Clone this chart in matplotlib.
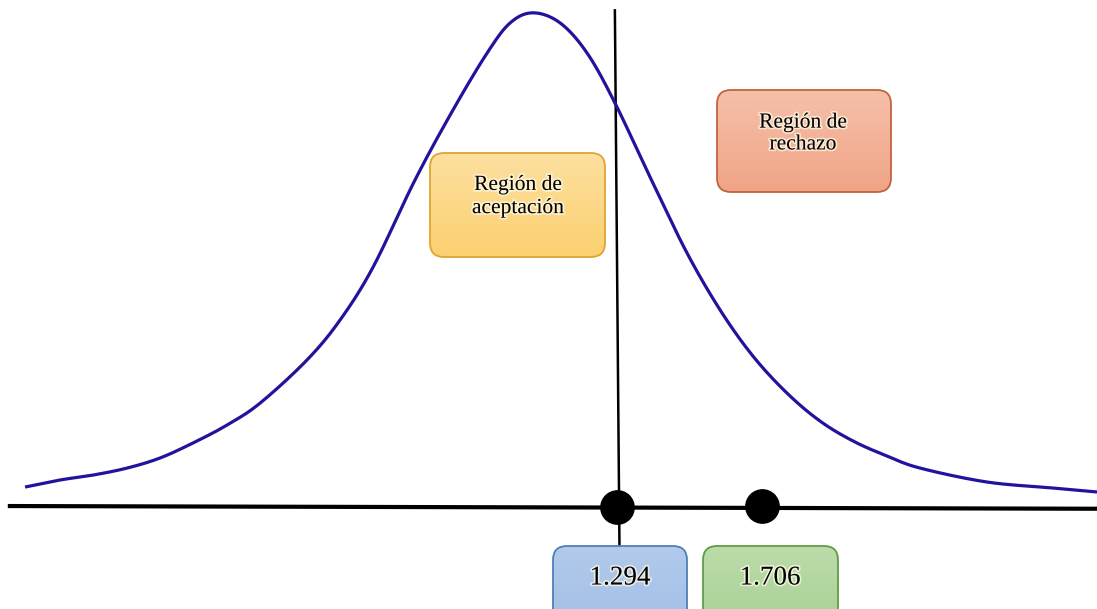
import numpy as np
import matplotlib
matplotlib.use("Agg")
import matplotlib.pyplot as plt
from matplotlib.patches import FancyBboxPatch
import matplotlib.patheffects as pe

# ---- data ----
curve_t = [-0.388, -0.289, -0.195, -0.098, -0.005, 0.089, 0.186, 0.280, 0.413, 0.507,
           0.601, 0.720, 0.828, 0.925, 0.990, 1.055, 1.132, 1.209, 1.288, 1.396,
           1.493, 1.587, 1.680, 1.777, 1.871, 1.965, 2.061, 2.155, 2.345, 2.533, 2.658]
curve_d = [0.0154, 0.0211, 0.0251, 0.0308, 0.0389, 0.0511, 0.0657, 0.0835, 0.1184, 0.1508,
           0.1938, 0.2644, 0.3212, 0.3674, 0.3917, 0.4000, 0.3919, 0.3674, 0.3270, 0.2620,
           0.2052, 0.1590, 0.1217, 0.0916, 0.0689, 0.0527, 0.0406, 0.0308, 0.0195, 0.0146, 0.0114]
critical_values = [1.294, 1.706]
critical_labels = ["1.294", "1.706"]
region_labels = ["Región de\naceptación", "Región de\nrechazo"]

W, H = 1097, 609
fig = plt.figure(figsize=(W / 100, H / 100), dpi=100)
ax = fig.add_axes([0, 0, 1, 1])
ax.set_xlim(-0.4591, 2.6579)
ax.set_ylim(-0.0835, 0.4104)
ax.axis("off")


def catmull(xs, ys, n=16):
    P = np.column_stack([np.asarray(xs), np.asarray(ys)])
    P = np.vstack([P[0], P, P[-1]])
    out = []
    for i in range(1, len(P) - 2):
        p0, p1, p2, p3 = P[i - 1], P[i], P[i + 1], P[i + 2]
        for s in np.linspace(0, 1, n, endpoint=False):
            s2, s3 = s * s, s * s * s
            out.append(0.5 * ((2 * p1) + (-p0 + p2) * s + (2 * p0 - 5 * p1 + 4 * p2 - p3) * s2
                              + (-p0 + 3 * p1 - 3 * p2 + p3) * s3))
    out.append(P[-2])
    out = np.array(out)
    return out[:, 0], out[:, 1]


sx, sy = catmull(curve_t, curve_d)
ax.plot(sx, sy, color="#22139c", lw=2.3, solid_capstyle="butt", zorder=3)

# horizontal axis
ax.plot([-0.431, 2.6579], [0.0, -0.0022], color="black", lw=3.0, zorder=2)
# vertical line at first critical value
ax.plot([critical_values[0] - 0.006, critical_values[0] + 0.007], [0.402, -0.0316],
        color="black", lw=1.8, zorder=2)
# dots
ax.plot(critical_values, [-0.0008, -0.0003], "o", color="black", ms=24, zorder=4)

serif = ["Liberation Serif", "DejaVu Serif"]
glow = [pe.withStroke(linewidth=2.5, foreground="#fffbe8", alpha=0.7)]


def box(px0, py0, px1, py1, c_top, c_bot, edge, rad=14):
    x0, x1 = px0 / W, px1 / W
    y0, y1 = 1 - py1 / H, 1 - py0 / H
    style = f"round,pad=0,rounding_size={rad / W}"
    grad = np.linspace(0, 1, 100).reshape(-1, 1)
    ct = np.array(matplotlib.colors.to_rgb(c_top))
    cb = np.array(matplotlib.colors.to_rgb(c_bot))
    img = ct[None, None, :] * (1 - grad[:, :, None]) + cb[None, None, :] * grad[:, :, None]
    im = ax.imshow(img, extent=(x0, x1, y0, y1), transform=ax.transAxes,
                   aspect="auto", origin="upper", zorder=5)
    fill = FancyBboxPatch((x0, y0), x1 - x0, y1 - y0, boxstyle=style,
                          transform=ax.transAxes, facecolor="none", edgecolor="none",
                          mutation_aspect=W / H)
    ax.add_patch(fill)
    im.set_clip_path(fill)
    edge_p = FancyBboxPatch((x0, y0), x1 - x0, y1 - y0, boxstyle=style,
                            transform=ax.transAxes, facecolor="none",
                            edgecolor=edge, lw=1.3, zorder=6, mutation_aspect=W / H)
    ax.add_patch(edge_p)


box(430, 153, 605, 257, "#fde0a0", "#fbd070", "#e0a530")
box(717, 90, 891, 192, "#f6c0aa", "#f0a486", "#c0643c")
box(553, 546, 687, 625, "#b2cbec", "#a2bfe6", "#4f7fb8")
box(703, 546, 838, 625, "#bcdcaa", "#a9d196", "#5f9c46")

ax.text(518 / W, 1 - 197 / H, region_labels[0], transform=ax.transAxes, ha="center",
        va="center", fontsize=15.5, family=serif, linespacing=1.3, zorder=7,
        path_effects=glow)
ax.text(803 / W, 1 - 134 / H, region_labels[1], transform=ax.transAxes, ha="center",
        va="center", fontsize=15.5, family=serif, linespacing=1.2, zorder=7,
        path_effects=glow)
ax.text(620 / W, 1 - 578 / H, critical_labels[0], transform=ax.transAxes, ha="center",
        va="center", fontsize=19.5, family=serif, zorder=7, path_effects=glow)
ax.text(770 / W, 1 - 578 / H, critical_labels[1], transform=ax.transAxes, ha="center",
        va="center", fontsize=19.5, family=serif, zorder=7, path_effects=glow)

fig.savefig("out.png", dpi=100)
